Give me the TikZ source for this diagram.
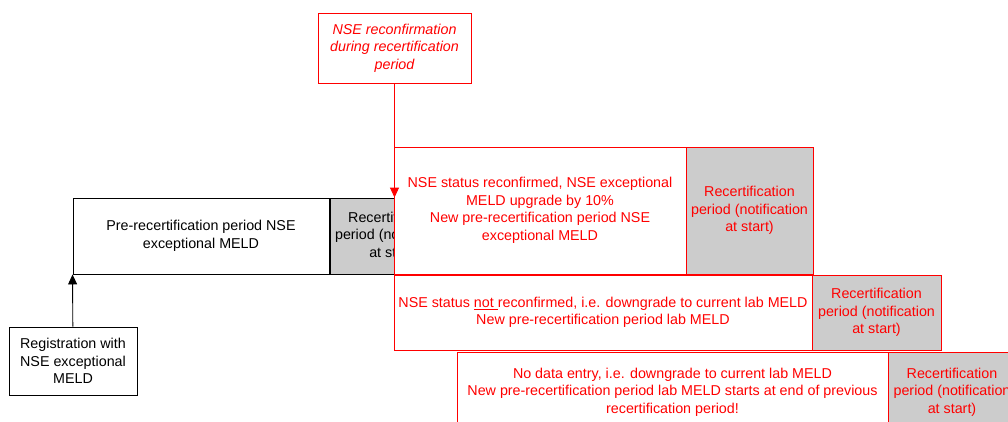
\documentclass[tikz,border=0pt]{standalone}
\usepackage{fontspec}
\setmainfont{Liberation Sans}
\usetikzlibrary{arrows.meta,positioning}
\definecolor{recgrey}{HTML}{CCCCCC}
\tikzset{blkbox/.style={draw=black, line width=0.9pt, fill=white, align=center, inner sep=0pt, font={\fontsize{14.3}{17.5}\selectfont}}}
\tikzset{redbox/.style={blkbox, draw=red, text=red}}
\tikzset{greybox/.style={fill=recgrey}}
\tikzset{arr/.style={draw, -{Triangle[length=10pt,width=9pt]}, line width=0.9pt}}

\begin{document}
\begin{tikzpicture}[x=1pt,y=-1pt]
\useasboundingbox (0,0) rectangle (1008,421);
% before reconfirmation
\node[blkbox, minimum width=256pt, minimum height=76pt] (pre) at (201,236) {Pre-recertification period NSE\\exceptional MELD};
\node[blkbox, greybox, minimum width=127pt, minimum height=76pt] (recert) at (393.5,236) {Recertification\\period (notification\\at start)};
\node[blkbox, minimum width=128pt, minimum height=68pt] (reg) at (73,361) {Registration with\\NSE exceptional\\MELD};

% outcomes
\node[redbox, minimum width=292pt, minimum height=127pt] (conf) at (540,210.5) {NSE status reconfirmed, NSE exceptional\\MELD upgrade by 10\%\\New pre-recertification period NSE\\exceptional MELD};
\node[redbox, greybox, minimum width=127pt, minimum height=127pt] (confrec) at (749.5,210.5) {Recertification\\period (notification\\at start)};
\node[redbox, minimum width=418pt, minimum height=75pt] (notconf) at (603,312.5) {NSE status \underline{not\ }reconfirmed, i.e. downgrade to current lab MELD\\New pre-recertification period lab MELD};
\node[redbox, greybox, minimum width=129pt, minimum height=75pt] (notconfrec) at (876.5,312.5) {Recertification\\period (notification\\at start)};
\node[redbox, minimum width=431pt, minimum height=80pt] (nodata) at (672.5,392) {No data entry, i.e. downgrade to current lab MELD\\New pre-recertification period lab MELD starts at end of previous\\recertification period!};
\node[redbox, greybox, minimum width=128pt, minimum height=80pt] (nodatarec) at (952,392) {Recertification\\period (notification\\at start)};

\node[redbox, minimum width=153pt, minimum height=70pt, font={\fontsize{14.3}{17.5}\selectfont\itshape}] (reconf) at (394.5,48) {NSE reconfirmation\\during recertification\\period};

\draw[arr] (reg) -- (pre.south west);
\draw[arr, red] (reconf) -- (reconf.south |- pre.north);
\end{tikzpicture}
\end{document}
